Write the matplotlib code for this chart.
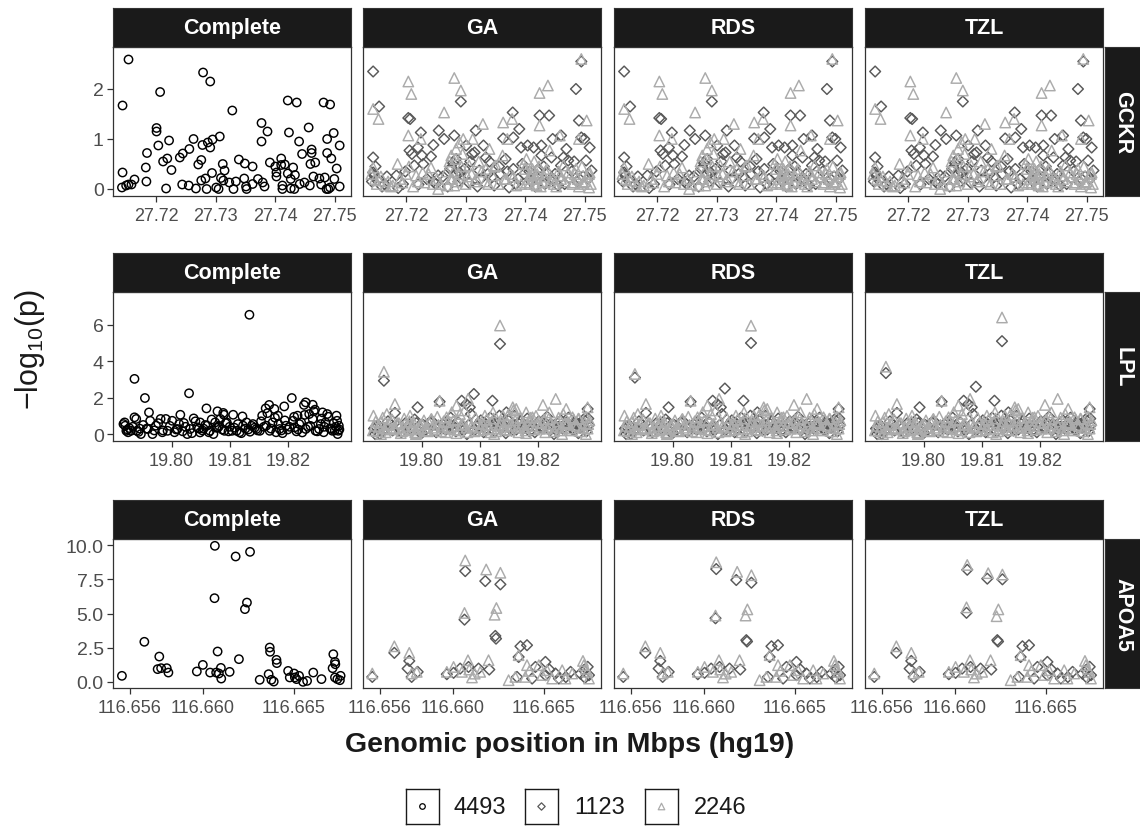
import matplotlib
matplotlib.use("Agg")
import matplotlib.pyplot as plt

plt.rcParams['font.family'] = ['Liberation Sans', 'DejaVu Sans']
plt.rcParams['mathtext.fontset'] = 'custom'
plt.rcParams['mathtext.rm'] = 'Liberation Sans'
plt.rcParams['mathtext.it'] = 'Liberation Sans:italic'

# ---------------- data ----------------
methods = ["Complete", "GA", "RDS", "TZL"]
genes = ["GCKR", "LPL", "APOA5"]
legend_labels = ["4493", "1123", "2246"]

gckr_xticks = [27.72, 27.73, 27.74, 27.75]
gckr_xtick_labels = ["27.72", "27.73", "27.74", "27.75"]
gckr_yticks = [0, 1, 2]
gckr_ytick_labels = ["0", "1", "2"]

lpl_xticks = [19.80, 19.81, 19.82]
lpl_xtick_labels = ["19.80", "19.81", "19.82"]
lpl_yticks = [0, 2, 4, 6]
lpl_ytick_labels = ["0", "2", "4", "6"]

apoa5_xticks = [116.656, 116.660, 116.665]
apoa5_xtick_labels = ["116.656", "116.660", "116.665"]
apoa5_yticks = [0, 2.5, 5, 7.5, 10]
apoa5_ytick_labels = ["0.0", "2.5", "5.0", "7.5", "10.0"]

# GCKR, complete data (n = 4493)
gckr_complete_pos = [27.7154, 27.7144, 27.7144, 27.7143, 27.7150, 27.7154, 27.7159, 27.7164, 27.7183, 27.7184,
                     27.7185, 27.7201, 27.7201, 27.7204, 27.7207, 27.7212, 27.7219, 27.7222, 27.7226, 27.7217,
                     27.7240, 27.7245, 27.7256, 27.7263, 27.7244, 27.7255, 27.7267, 27.7271, 27.7276, 27.7276,
                     27.7278, 27.7279, 27.7283, 27.7285, 27.7291, 27.7287, 27.7291, 27.7295, 27.7294, 27.7301,
                     27.7305, 27.7307, 27.7309, 27.7312, 27.7315, 27.7313, 27.7323, 27.7328, 27.7330, 27.7334,
                     27.7339, 27.7348, 27.7349, 27.7351, 27.7352, 27.7362, 27.7362, 27.7371, 27.7377, 27.7377,
                     27.7379, 27.7382, 27.7387, 27.7391, 27.7400, 27.7402, 27.7402, 27.7410, 27.7410, 27.7412,
                     27.7412, 27.7416, 27.7421, 27.7423, 27.7421, 27.7426, 27.7430, 27.7433, 27.7426, 27.7432,
                     27.7436, 27.7440, 27.7441, 27.7445, 27.7449, 27.7456, 27.7459, 27.7461, 27.7461, 27.7464,
                     27.7467, 27.7458, 27.7474, 27.7481, 27.7492, 27.7487, 27.7487, 27.7494, 27.7498, 27.7503,
                     27.7508, 27.7499, 27.7492, 27.7486, 27.7489, 27.7508, 27.7483, 27.7477]
gckr_complete_logp = [2.59, 1.67, 0.33, 0.03, 0.07, 0.09, 0.09, 0.19, 0.43, 0.15,
                      0.72, 1.22, 1.15, 0.87, 1.94, 0.55, 0.61, 0.97, 0.38, 0.01,
                      0.63, 0.71, 0.80, 1.00, 0.09, 0.07, 0.01, 0.49, 0.58, 0.17,
                      0.88, 2.33, 0.21, 0.00, 2.15, 0.93, 0.83, 0.99, 0.32, 0.03,
                      0.00, 1.05, 0.22, 0.50, 0.37, 0.17, 0.13, 1.57, 0.00, 0.15,
                      0.59, 0.21, 0.51, 0.05, 0.00, 0.45, 0.10, 0.20, 1.32, 0.95,
                      0.13, 0.05, 1.15, 0.53, 0.45, 0.33, 0.25, 0.61, 0.48, 0.07,
                      0.00, 0.49, 1.77, 1.13, 0.31, 0.20, 0.43, 0.28, 0.01, 0.00,
                      1.73, 0.95, 0.10, 0.70, 0.13, 1.23, 0.50, 0.79, 0.72, 0.25,
                      0.53, 0.07, 0.21, 1.73, 1.69, 0.72, 1.00, 0.61, 1.12, 0.41,
                      0.87, 0.20, 0.03, 0.00, 0.00, 0.05, 0.23, 0.09]

# GCKR, imputed data (n = 1123, diamonds)
gckr_1123_pos = [27.7145, 27.7155, 27.7145, 27.7145, 27.7147, 27.7152, 27.7164, 27.7184, 27.7187, 27.7204,
                 27.7207, 27.7206, 27.7210, 27.7214, 27.7220, 27.7225, 27.7227, 27.7221, 27.7242, 27.7246,
                 27.7246, 27.7254, 27.7255, 27.7264, 27.7281, 27.7292, 27.7279, 27.7284, 27.7276, 27.7290,
                 27.7301, 27.7311, 27.7315, 27.7317, 27.7306, 27.7323, 27.7330, 27.7334, 27.7340, 27.7348,
                 27.7363, 27.7367, 27.7373, 27.7379, 27.7380, 27.7390, 27.7393, 27.7380, 27.7404, 27.7414,
                 27.7424, 27.7427, 27.7440, 27.7427, 27.7444, 27.7436, 27.7455, 27.7460, 27.7464, 27.7469,
                 27.7472, 27.7460, 27.7485, 27.7494, 27.7490, 27.7494, 27.7499, 27.7508, 27.7502, 27.7511,
                 27.7491, 27.7446,
                 27.7143, 27.7160, 27.7195, 27.7235, 27.7262, 27.7270, 27.7283, 27.7288, 27.7298, 27.7325,
                 27.7345, 27.7358, 27.7370, 27.7388, 27.7398, 27.7410, 27.7418, 27.7422, 27.7433, 27.7450,
                 27.7478, 27.7487, 27.7505,
                 27.7149, 27.7168, 27.7199, 27.7229, 27.7250, 27.7274, 27.7293, 27.7308, 27.7320, 27.7337,
                 27.7356, 27.7384, 27.7395, 27.7407, 27.7417, 27.7431, 27.7447, 27.7466, 27.7482, 27.7497]
gckr_1123_logp = [2.35, 1.65, 0.63, 0.33, 0.27, 0.17, 0.10, 0.27, 0.02, 1.42,
                  1.40, 0.77, 0.70, 0.47, 0.83, 1.13, 0.67, 0.09, 0.65, 0.88,
                  0.15, 0.27, 1.17, 1.00, 1.07, 1.75, 0.52, 0.60, 0.43, 0.33,
                  0.87, 0.70, 0.73, 1.17, 0.12, 0.37, 0.87, 0.63, 0.55, 0.07,
                  1.01, 0.60, 0.03, 1.53, 1.03, 1.20, 0.83, 0.40, 0.87, 0.83,
                  1.47, 0.87, 1.47, 0.67, 0.63, 0.33, 0.07, 1.07, 0.63, 0.80,
                  0.57, 0.47, 2.00, 2.55, 1.37, 1.03, 1.00, 0.83, 0.57, 0.37,
                  0.20, 1.00,
                  0.15, 0.05, 0.10, 0.20, 0.25, 0.05, 0.30, 0.15, 0.40, 0.20,
                  0.25, 0.30, 0.35, 0.20, 0.30, 0.15, 0.25, 0.40, 0.10, 0.30,
                  0.35, 0.15, 0.20,
                  0.45, 0.25, 0.35, 0.50, 0.10, 0.40, 0.20, 0.55, 0.05, 0.30,
                  0.45, 0.10, 0.50, 0.35, 0.05, 0.45, 0.20, 0.10, 0.55, 0.25]

# GCKR, imputed data (n = 2246, triangles)
gckr_2246_pos = [27.7145, 27.7154, 27.7145, 27.7166, 27.7186, 27.7204, 27.7209, 27.7204, 27.7225, 27.7228,
                 27.7242, 27.7254, 27.7264, 27.7281, 27.7292, 27.7276, 27.7284, 27.7290, 27.7296, 27.7270,
                 27.7281, 27.7312, 27.7329, 27.7340, 27.7334, 27.7345, 27.7351, 27.7363, 27.7378, 27.7370,
                 27.7362, 27.7385, 27.7397, 27.7402, 27.7414, 27.7424, 27.7438, 27.7424, 27.7414, 27.7419,
                 27.7430, 27.7441, 27.7458, 27.7464, 27.7472, 27.7481, 27.7490, 27.7494, 27.7503, 27.7508,
                 27.7507, 27.7497, 27.7458, 27.7447, 27.7408, 27.7402, 27.7318, 27.7306, 27.7252, 27.7231,
                 27.7217, 27.7194, 27.7178, 27.7155,
                 27.7148, 27.7170, 27.7200, 27.7212, 27.7245, 27.7275, 27.7280, 27.7286, 27.7293, 27.7300,
                 27.7310, 27.7322, 27.7333, 27.7355, 27.7365, 27.7375, 27.7393, 27.7405, 27.7412, 27.7416,
                 27.7420, 27.7426, 27.7432, 27.7436, 27.7442, 27.7452, 27.7460, 27.7475, 27.7485, 27.7490,
                 27.7500, 27.7507,
                 27.7142, 27.7151, 27.7158, 27.7175, 27.7190, 27.7205, 27.7220, 27.7238, 27.7258, 27.7268,
                 27.7273, 27.7278, 27.7283, 27.7289, 27.7295, 27.7303, 27.7315, 27.7327, 27.7338, 27.7348,
                 27.7368, 27.7380, 27.7399, 27.7407, 27.7411, 27.7415, 27.7419, 27.7423, 27.7429, 27.7434,
                 27.7448, 27.7456, 27.7466, 27.7479, 27.7483, 27.7488, 27.7495, 27.7498, 27.7503, 27.7510]
gckr_2246_logp = [1.60, 1.40, 0.43, 0.07, 0.50, 2.15, 1.90, 1.07, 1.00, 0.33,
                  0.43, 0.00, 1.53, 2.22, 1.97, 0.67, 0.80, 0.93, 1.00, 0.07,
                  0.07, 1.00, 1.30, 0.80, 0.40, 0.27, 0.47, 1.33, 1.40, 1.00,
                  0.67, 0.07, 0.50, 0.60, 0.33, 1.92, 2.07, 1.27, 0.20, 0.07,
                  0.13, 0.77, 1.07, 0.47, 0.33, 0.13, 1.00, 2.60, 1.37, 0.33,
                  0.03, 0.13, 0.27, 0.20, 0.27, 0.13, 0.20, 0.47, 0.20, 0.13,
                  0.27, 0.13, 0.07, 0.17,
                  0.20, 0.15, 0.30, 0.05, 0.10, 0.20, 0.35, 0.15, 0.45, 0.10,
                  0.30, 0.55, 0.15, 0.10, 0.20, 0.30, 0.10, 0.20, 0.40, 0.10,
                  0.30, 0.05, 0.25, 0.40, 0.15, 0.05, 0.20, 0.25, 0.40, 0.05,
                  0.15, 0.30,
                  0.30, 0.10, 0.25, 0.05, 0.20, 0.45, 0.15, 0.30, 0.10, 0.35,
                  0.55, 0.20, 0.60, 0.30, 0.70, 0.25, 0.15, 0.35, 0.10, 0.45,
                  0.20, 0.25, 0.40, 0.10, 0.30, 0.55, 0.20, 0.45, 0.15, 0.35,
                  0.10, 0.35, 0.15, 0.10, 0.30, 0.20, 0.45, 0.10, 0.25, 0.10]

# LPL, complete data
lpl_complete_pos = [19.8134, 19.7936, 19.7954, 19.7961, 19.7963, 19.8030, 19.7919, 19.7920, 19.7936, 19.7939,
                    19.8015, 19.8021, 19.8038, 19.8060, 19.8079, 19.8089, 19.8090, 19.8106, 19.8122, 19.8156,
                    19.8168, 19.8162, 19.8177, 19.8183, 19.8194, 19.8207, 19.8228, 19.8231, 19.8243, 19.8247,
                    19.8260, 19.8268, 19.8284, 19.8285, 19.8288, 19.8287, 19.7981, 19.7990, 19.8001, 19.7973,
                    19.7993, 19.7947, 19.7967, 19.7930, 19.7927, 19.7922, 19.8027, 19.8049, 19.8044, 19.8066,
                    19.8075, 19.8084, 19.8095, 19.8072, 19.8112, 19.8123, 19.8129, 19.8140, 19.8146, 19.8152,
                    19.8163, 19.8174, 19.8186, 19.8197, 19.8209, 19.8220, 19.8231, 19.8243, 19.8254, 19.8265,
                    19.8277, 19.8286, 19.8104, 19.8135, 19.8191, 19.8225, 19.8248, 19.8257, 19.8237, 19.8217,
                    19.8212, 19.8169, 19.8032, 19.8010, 19.7959, 19.7940, 19.8049, 19.8061, 19.8080, 19.8091,
                    19.7925, 19.7945, 19.7985, 19.8005, 19.8055, 19.8100, 19.8117, 19.8143, 19.8180, 19.8200,
                    19.8215, 19.8235, 19.8262, 19.8273, 19.8281,
                    19.7917, 19.7924, 19.7933, 19.7943, 19.7951, 19.7957, 19.7970, 19.7977, 19.7984, 19.7997,
                    19.8008, 19.8013, 19.8019, 19.8024, 19.8035, 19.8041, 19.8047, 19.8053, 19.8058, 19.8064,
                    19.8069, 19.8077, 19.8082, 19.8087, 19.8093, 19.8098, 19.8108, 19.8114, 19.8120, 19.8127,
                    19.8132, 19.8138, 19.8148, 19.8154, 19.8159, 19.8165, 19.8171, 19.8178, 19.8184, 19.8189,
                    19.8195, 19.8203, 19.8211, 19.8218, 19.8223, 19.8229, 19.8239, 19.8245, 19.8251, 19.8258,
                    19.8263, 19.8270, 19.8275, 19.8279, 19.8283, 19.8289]
lpl_complete_logp = [6.55, 3.03, 1.98, 1.19, 0.73, 2.24, 0.64, 0.46, 0.92, 0.83,
                     1.06, 0.61, 0.86, 1.41, 1.25, 1.16, 1.06, 1.06, 0.97, 1.01,
                     1.60, 1.41, 1.38, 1.01, 1.52, 1.98, 1.60, 1.74, 1.61, 1.34,
                     1.19, 1.10, 1.01, 0.73, 0.46, 0.18, 0.83, 0.83, 0.73, 0.46,
                     0.18, 0.00, 0.00, 0.18, 0.33, 0.18, 0.00, 0.09, 0.37, 0.18,
                     0.64, 0.83, 0.64, 0.00, 0.18, 0.46, 0.64, 0.55, 0.28, 0.18,
                     0.46, 0.64, 0.28, 0.46, 0.73, 0.55, 0.28, 0.83, 0.28, 0.64,
                     0.18, 0.00, 0.18, 0.13, 0.05, 0.09, 0.18, 0.55, 1.10, 1.01,
                     0.37, 0.18, 0.28, 0.28, 0.28, 0.18, 0.64, 0.46, 0.37, 0.18,
                     0.10, 0.30, 0.20, 0.10, 0.30, 0.40, 0.10, 0.35, 0.10, 0.25,
                     0.15, 0.40, 0.10, 0.30, 0.20,
                     0.55, 0.25, 0.40, 0.12, 0.50, 0.30, 0.20, 0.60, 0.10, 0.45,
                     0.25, 0.55, 0.15, 0.40, 0.05, 0.70, 0.30, 0.20, 0.50, 0.10,
                     0.80, 0.35, 0.45, 0.25, 0.60, 0.15, 0.35, 0.55, 0.05, 0.30,
                     0.25, 0.45, 0.20, 0.70, 0.40, 1.15, 0.30, 0.90, 0.55, 0.20,
                     0.75, 0.40, 0.95, 0.25, 0.65, 1.05, 0.45, 1.25, 0.15, 0.85,
                     0.40, 0.95, 0.30, 0.60, 0.40, 0.25]

# LPL, imputed (n = 1123) background points, shared by GA / RDS / TZL
lpl_1123_pos = [19.8031, 19.8069, 19.8077, 19.8083, 19.8122, 19.7993, 19.7954, 19.8286, 19.8146, 19.8134,
                19.7920,
                19.7918, 19.7925, 19.7932, 19.7942, 19.7950, 19.7958, 19.7965, 19.7972, 19.7980, 19.7988,
                19.7995, 19.8003, 19.8010, 19.8018, 19.8025, 19.8036, 19.8042, 19.8050, 19.8056, 19.8063,
                19.8072, 19.8085, 19.8095, 19.8102, 19.8110, 19.8118, 19.8126, 19.8131, 19.8140, 19.8150,
                19.8155, 19.8160, 19.8168, 19.8175, 19.8182, 19.8188, 19.8195, 19.8202, 19.8210, 19.8216,
                19.8224, 19.8232, 19.8240, 19.8246, 19.8253, 19.8260, 19.8266, 19.8273, 19.8279, 19.8284,
                19.8288, 19.7928, 19.8000, 19.8078, 19.8145, 19.8228, 19.8270,
                19.7921, 19.7937, 19.7946, 19.7962, 19.7977, 19.7991, 19.8006, 19.8014, 19.8028, 19.8039,
                19.8047, 19.8059, 19.8066, 19.8081, 19.8092, 19.8099, 19.8107, 19.8115, 19.8123, 19.8137,
                19.8143, 19.8152, 19.8163, 19.8171, 19.8179, 19.8186, 19.8199, 19.8207, 19.8213, 19.8221,
                19.8229, 19.8236, 19.8243, 19.8250, 19.8257, 19.8263, 19.8270, 19.8276, 19.8282, 19.8287]
lpl_1123_logp = [1.78, 1.83, 1.65, 1.47, 1.83, 1.47, 1.16, 1.38, 1.19, 1.01,
                 0.00,
                 0.30, 0.50, 0.15, 0.70, 0.20, 0.45, 0.10, 0.60, 0.30, 0.80,
                 0.15, 0.50, 0.35, 0.70, 0.10, 0.55, 0.25, 0.90, 0.40, 0.65,
                 0.20, 1.10, 0.45, 0.75, 0.30, 0.90, 0.15, 0.60, 0.40, 0.80,
                 0.20, 1.00, 0.55, 0.30, 0.85, 0.45, 0.10, 0.70, 0.35, 0.95,
                 0.50, 0.20, 0.75, 0.40, 0.90, 0.25, 0.60, 0.35, 0.80, 0.15,
                 0.50, 0.00, 0.05, 0.00, 0.05, 0.00, 0.05,
                 0.40, 0.25, 0.55, 0.30, 0.45, 0.60, 0.20, 0.65, 0.40, 0.30,
                 0.55, 0.15, 0.35, 0.50, 0.25, 0.60, 0.10, 0.45, 0.55, 0.30,
                 0.65, 0.40, 0.25, 0.70, 0.45, 0.15, 0.55, 0.35, 0.60, 0.20,
                 0.50, 0.40, 0.30, 0.65, 0.45, 0.20, 0.55, 0.60, 0.30, 0.85]

# LPL, imputed (n = 2246) background points
lpl_2246_pos = [19.7954, 19.8031, 19.8060, 19.8080, 19.8231, 19.8209, 19.8286, 19.8157, 19.8163, 19.8180,
                19.8249, 19.7917, 19.7940, 19.7980, 19.8017, 19.8043, 19.8066, 19.8109, 19.8123, 19.8140,
                19.8191, 19.8220, 19.8260, 19.8271,
                19.7916, 19.7921, 19.7927, 19.7933, 19.7938, 19.7944, 19.7949, 19.7955, 19.7961, 19.7966,
                19.7970, 19.7976, 19.7983, 19.7986, 19.7992, 19.7997, 19.8004, 19.8008, 19.8013, 19.8020,
                19.8027, 19.8033, 19.8038, 19.8046, 19.8052, 19.8057, 19.8062, 19.8068, 19.8074, 19.8079,
                19.8083, 19.8088, 19.8093, 19.8098, 19.8105, 19.8112, 19.8116, 19.8121, 19.8128, 19.8133,
                19.8138, 19.8144, 19.8149, 19.8153, 19.8158, 19.8164, 19.8170, 19.8174, 19.8179, 19.8185,
                19.8190, 19.8197, 19.8203, 19.8207, 19.8213, 19.8219, 19.8225, 19.8234, 19.8238, 19.8244,
                19.8250, 19.8256, 19.8262, 19.8268, 19.8275, 19.8281, 19.8286, 19.8289, 19.7930, 19.7990,
                19.8060, 19.8125, 19.8180, 19.8242, 19.8283,
                19.7919, 19.7924, 19.7930, 19.7936, 19.7941, 19.7947, 19.7952, 19.7958, 19.7964, 19.7968,
                19.7973, 19.7979, 19.7985, 19.7989, 19.7995, 19.8001, 19.8006, 19.8011, 19.8016, 19.8023,
                19.8029, 19.8035, 19.8041, 19.8044, 19.8049, 19.8055, 19.8065, 19.8071, 19.8077, 19.8086,
                19.8091, 19.8096, 19.8101, 19.8108, 19.8114, 19.8119, 19.8124, 19.8131, 19.8136, 19.8141,
                19.8147, 19.8151, 19.8156, 19.8161, 19.8167, 19.8172, 19.8177, 19.8183, 19.8188, 19.8194,
                19.8200, 19.8205, 19.8211, 19.8216, 19.8222, 19.8228, 19.8232, 19.8236, 19.8241, 19.8247,
                19.8252, 19.8258, 19.8264, 19.8270, 19.8277, 19.8283, 19.8287]
lpl_2246_logp = [1.65, 1.83, 1.56, 1.93, 1.93, 1.60, 1.47, 1.47, 1.38, 1.19,
                 1.38, 1.01, 1.10, 1.01, 0.83, 0.92, 1.10, 1.01, 1.19, 1.01,
                 0.92, 1.19, 0.92, 0.83,
                 0.20, 0.70, 0.40, 0.90, 0.10, 0.55, 0.80, 0.30, 0.60, 0.15,
                 0.85, 0.45, 0.25, 0.65, 0.05, 0.50, 0.75, 0.20, 0.60, 0.35,
                 0.95, 0.15, 0.70, 0.40, 1.20, 0.25, 0.80, 0.50, 1.30, 0.10,
                 0.65, 0.35, 0.90, 0.20, 0.55, 0.80, 0.30, 0.65, 0.15, 0.45,
                 0.70, 0.25, 1.05, 0.50, 1.30, 0.35, 0.90, 0.60, 0.20, 0.75,
                 0.45, 1.00, 0.30, 0.65, 0.10, 0.85, 0.40, 0.70, 0.20, 1.10,
                 0.55, 0.30, 0.80, 0.45, 0.15, 0.60, 0.30, 0.75, 0.00, 0.00,
                 0.05, 0.00, 0.05, 0.00, 0.00,
                 0.45, 0.15, 0.65, 0.30, 0.50, 0.25, 0.35, 0.60, 0.05, 0.40,
                 0.20, 0.70, 0.45, 0.10, 0.30, 0.55, 0.35, 0.15, 0.80, 0.25,
                 0.50, 0.40, 0.10, 0.65, 0.30, 0.75, 0.20, 0.55, 0.35, 0.45,
                 0.15, 0.60, 0.40, 0.25, 0.50, 0.10, 0.85, 0.30, 0.55, 0.40,
                 0.65, 0.20, 0.45, 0.75, 0.10, 0.50, 0.35, 0.55, 0.90, 0.25,
                 0.60, 0.40, 0.80, 0.30, 0.55, 0.15, 0.45, 0.90, 0.35, 0.60,
                 0.65, 0.20, 0.50, 0.85, 0.35, 0.95, 0.55]

# LPL peak SNPs, per imputation method
lpl_peak_1123_pos = [19.7935, 19.8135, 19.8090]
lpl_peak_1123_ga = [2.93, 4.95, 2.20]
lpl_peak_1123_rds = [3.10, 5.00, 2.50]
lpl_peak_1123_tzl = [3.35, 5.10, 2.60]
lpl_peak_2246_pos = [19.7935, 19.8135]
lpl_peak_2246_ga = [3.42, 5.96]
lpl_peak_2246_rds = [3.30, 5.95]
lpl_peak_2246_tzl = [3.70, 6.40]

# APOA5, complete data
apoa5_complete_pos = [116.65556, 116.65679, 116.65761, 116.65752, 116.65771, 116.65802, 116.65811, 116.65967,
                      116.66000, 116.66040, 116.66066, 116.66064, 116.66081, 116.66073, 116.66088, 116.66099,
                      116.66101, 116.66147, 116.66180, 116.66198, 116.66231, 116.66242, 116.66259, 116.66312,
                      116.66367, 116.66369, 116.66361, 116.66376, 116.66389, 116.66404, 116.66406, 116.66468,
                      116.66477, 116.66501, 116.66505, 116.66514, 116.66528, 116.66550, 116.66572, 116.66606,
                      116.66651, 116.66712, 116.66716, 116.66725, 116.66727, 116.66725, 116.66738, 116.66752,
                      116.66756]
apoa5_complete_logp = [0.44, 2.93, 1.85, 0.93, 1.00, 1.00, 0.68, 0.76,
                       1.24, 0.68, 9.95, 6.12, 2.22, 0.68, 0.61, 1.02,
                       0.24, 0.73, 9.17, 1.66, 5.32, 5.80, 9.51, 0.15,
                       2.51, 2.20, 0.56, 0.15, 0.02, 1.61, 1.37, 0.80,
                       0.32, 0.61, 0.32, 0.20, 0.44, 0.00, 0.07, 0.68,
                       0.20, 1.00, 2.02, 1.46, 1.29, 0.32, 0.20, 0.12,
                       0.44]

# APOA5, imputed (n = 1123) background points
apoa5_1123_pos = [116.65558, 116.65679, 116.65761, 116.65752, 116.65774, 116.65807, 116.66200, 116.66141,
                  116.66086, 116.66040, 116.66004, 116.65967, 116.66371, 116.66407, 116.66361, 116.66508,
                  116.66453, 116.66563, 116.66646, 116.66719, 116.66747, 116.66352, 116.66435, 116.66508,
                  116.66582, 116.66740, 116.66725, 116.66700, 116.66620, 116.66530]
apoa5_1123_logp = [0.36, 2.12, 1.53, 0.97, 0.36, 0.73, 0.90, 0.97,
                   1.09, 0.97, 0.66, 0.56, 2.60, 2.68, 1.82, 1.46,
                   1.09, 0.61, 0.73, 0.85, 0.49, 0.36, 0.24, 0.49,
                   0.24, 1.10, 0.30, 0.60, 0.35, 0.90]

# APOA5, imputed (n = 2246) background points
apoa5_2246_pos = [116.65558, 116.65679, 116.65761, 116.66083, 116.66196, 116.66004, 116.65967, 116.66105,
                  116.66361, 116.66407, 116.66472, 116.66517, 116.66600, 116.66655, 116.66714, 116.66719,
                  116.66738, 116.66306, 116.66343, 116.65774, 116.65802, 116.66050, 116.66150, 116.66398,
                  116.66545, 116.66618, 116.66747, 116.66090, 116.66120, 116.66420, 116.66490, 116.66730]
apoa5_2246_logp = [0.61, 2.60, 2.12, 1.58, 1.58, 1.09, 0.73, 0.32,
                   1.95, 1.22, 1.22, 0.85, 0.85, 0.61, 1.53, 1.22,
                   0.73, 0.12, 0.36, 0.61, 0.73, 0.73, 0.73, 0.36,
                   0.24, 0.24, 0.24, 0.90, 0.60, 0.80, 0.50, 0.95]

# APOA5 peak SNPs, per imputation method
apoa5_peak_1123_pos = [116.66068, 116.66064, 116.66178, 116.66261, 116.66233, 116.66237]
apoa5_peak_1123_ga = [8.10, 4.55, 7.37, 7.13, 3.36, 3.16]
apoa5_peak_1123_rds = [8.25, 4.65, 7.45, 7.25, 3.05, 2.95]
apoa5_peak_1123_tzl = [8.20, 5.05, 7.55, 7.50, 3.05, 2.95]
apoa5_peak_2246_pos = [116.66068, 116.66064, 116.66183, 116.66261, 116.66239, 116.66229]
apoa5_peak_2246_ga = [8.88, 5.04, 8.22, 7.98, 5.40, 4.91]
apoa5_peak_2246_rds = [8.75, 4.85, 8.05, 7.80, 5.30, 4.85]
apoa5_peak_2246_tzl = [8.55, 5.45, 7.95, 7.85, 5.30, 4.80]

# ---------------- assemble per panel ----------------
def imputed(base_pos, base_val, peak_pos, peak_val):
    return list(base_pos) + list(peak_pos), list(base_val) + list(peak_val)

gene_data = {
    "GCKR": {
        "Complete": (gckr_complete_pos, gckr_complete_logp),
        "1123": {m: (gckr_1123_pos, gckr_1123_logp) for m in ["GA", "RDS", "TZL"]},
        "2246": {m: (gckr_2246_pos, gckr_2246_logp) for m in ["GA", "RDS", "TZL"]},
    },
    "LPL": {
        "Complete": (lpl_complete_pos, lpl_complete_logp),
        "1123": {"GA": imputed(lpl_1123_pos, lpl_1123_logp, lpl_peak_1123_pos, lpl_peak_1123_ga),
                 "RDS": imputed(lpl_1123_pos, lpl_1123_logp, lpl_peak_1123_pos, lpl_peak_1123_rds),
                 "TZL": imputed(lpl_1123_pos, lpl_1123_logp, lpl_peak_1123_pos, lpl_peak_1123_tzl)},
        "2246": {"GA": imputed(lpl_2246_pos, lpl_2246_logp, lpl_peak_2246_pos, lpl_peak_2246_ga),
                 "RDS": imputed(lpl_2246_pos, lpl_2246_logp, lpl_peak_2246_pos, lpl_peak_2246_rds),
                 "TZL": imputed(lpl_2246_pos, lpl_2246_logp, lpl_peak_2246_pos, lpl_peak_2246_tzl)},
    },
    "APOA5": {
        "Complete": (apoa5_complete_pos, apoa5_complete_logp),
        "1123": {"GA": imputed(apoa5_1123_pos, apoa5_1123_logp, apoa5_peak_1123_pos, apoa5_peak_1123_ga),
                 "RDS": imputed(apoa5_1123_pos, apoa5_1123_logp, apoa5_peak_1123_pos, apoa5_peak_1123_rds),
                 "TZL": imputed(apoa5_1123_pos, apoa5_1123_logp, apoa5_peak_1123_pos, apoa5_peak_1123_tzl)},
        "2246": {"GA": imputed(apoa5_2246_pos, apoa5_2246_logp, apoa5_peak_2246_pos, apoa5_peak_2246_ga),
                 "RDS": imputed(apoa5_2246_pos, apoa5_2246_logp, apoa5_peak_2246_pos, apoa5_peak_2246_rds),
                 "TZL": imputed(apoa5_2246_pos, apoa5_2246_logp, apoa5_peak_2246_pos, apoa5_peak_2246_tzl)},
    },
}

axis_cfg = {
    "GCKR": dict(xlim=(27.7128, 27.7527), ylim=(-0.14, 2.84), xt=gckr_xticks, xtl=gckr_xtick_labels,
                 yt=gckr_yticks, ytl=gckr_ytick_labels),
    "LPL": dict(xlim=(19.7899, 19.8309), ylim=(-0.38, 7.8), xt=lpl_xticks, xtl=lpl_xtick_labels,
                yt=lpl_yticks, ytl=lpl_ytick_labels),
    "APOA5": dict(xlim=(116.65507, 116.66813), ylim=(-0.45, 10.45), xt=apoa5_xticks, xtl=apoa5_xtick_labels,
                  yt=apoa5_yticks, ytl=apoa5_ytick_labels),
}

# ---------------- layout ----------------
W, H = 1140, 828
fig = plt.figure(figsize=(W / 100, H / 100), dpi=100)

def fa(x0, y0, w, h):
    return [x0 / W, 1 - (y0 + h) / H, w / W, h / H]

col_left = [113, 363, 614, 865]
panel_w = 238
row_top = [48, 293, 540]
panel_h = 149
strip_h = 39

STRIP = '#1a1a1a'
BORDER = '#333333'
TICKLAB = '#4d4d4d'
COL_C = 'black'
COL_D = '#595959'
COL_T = '#ababab'

for r, gene in enumerate(genes):
    cfg = axis_cfg[gene]
    for c, meth in enumerate(methods):
        ax = fig.add_axes(fa(col_left[c], row_top[r], panel_w, panel_h))
        if meth == "Complete":
            px, py = gene_data[gene]["Complete"]
            n = min(len(px), len(py))
            ax.scatter(px[:n], py[:n], s=36, marker='o', facecolors='none', edgecolors=COL_C, linewidths=1.05)
        else:
            dx, dy = gene_data[gene]["1123"][meth]
            tx, ty = gene_data[gene]["2246"][meth]
            n1 = min(len(dx), len(dy))
            n2 = min(len(tx), len(ty))
            ax.scatter(dx[:n1], dy[:n1], s=30, marker='D', facecolors='none', edgecolors=COL_D, linewidths=1.05)
            ax.scatter(tx[:n2], ty[:n2], s=56, marker='^', facecolors='none', edgecolors=COL_T, linewidths=1.05)
        ax.set_xlim(cfg["xlim"])
        ax.set_ylim(cfg["ylim"])
        ax.set_xticks(cfg["xt"])
        ax.set_xticklabels(cfg["xtl"], fontsize=13, color=TICKLAB)
        ax.set_yticks(cfg["yt"])
        if c == 0:
            ax.set_yticklabels(cfg["ytl"], fontsize=14, color=TICKLAB)
        else:
            ax.tick_params(axis='y', left=False, labelleft=False)
        ax.tick_params(axis='both', color=BORDER, length=4.2, width=0.9)
        ax.tick_params(axis='x', pad=3.5)
        ax.tick_params(axis='y', pad=2.5)
        for sp in ax.spines.values():
            sp.set_color(BORDER)
            sp.set_linewidth(0.9)
        # top strip
        sax = fig.add_axes(fa(col_left[c], row_top[r] - strip_h, panel_w, strip_h))
        sax.set_facecolor(STRIP)
        sax.set_xticks([]); sax.set_yticks([])
        for sp in sax.spines.values():
            sp.set_color(BORDER)
        sax.text(0.5, 0.5, meth, color='white', fontsize=15.5, fontweight='bold',
                 ha='center', va='center', transform=sax.transAxes)
    # right strip
    rax = fig.add_axes(fa(1105, row_top[r], 36, panel_h))
    rax.set_facecolor(STRIP)
    rax.set_xticks([]); rax.set_yticks([])
    for sp in rax.spines.values():
        sp.set_color(BORDER)
    rax.text(0.5, 0.5, gene, color='white', fontsize=15.5, fontweight='bold', rotation=270,
             ha='center', va='center', transform=rax.transAxes)

# axis titles
fig.text(30 / W, 1 - 350 / H, r'$\mathrm{-log_{10}(p)}$', rotation=90, fontsize=22,
         ha='center', va='center', color='#1a1a1a')
fig.text(570 / W, 1 - 745 / H, 'Genomic position in Mbps (hg19)', fontsize=20.5, fontweight='bold',
         ha='center', va='center', color='#1a1a1a')

# legend
key_x = [406, 525, 645]
text_x = [454, 574, 694]
key_markers = [('o', 'none', COL_C, 16), ('D', 'none', COL_D, 14), ('^', 'none', COL_T, 22)]
for kx, tx, lab, (mk, fc, ec, ss) in zip(key_x, text_x, legend_labels, key_markers):
    kax = fig.add_axes(fa(kx, 790, 33, 35))
    kax.set_xlim(0, 1); kax.set_ylim(0, 1)
    kax.set_xticks([]); kax.set_yticks([])
    for sp in kax.spines.values():
        sp.set_color('#1a1a1a'); sp.set_linewidth(1.0)
    kax.scatter([0.5], [0.5], s=ss, marker=mk, facecolors=fc, edgecolors=ec, linewidths=0.9)
    fig.text(tx / W, 1 - 808 / H, lab, fontsize=17, ha='left', va='center', color='#1a1a1a')

fig.savefig('out.png', dpi=100)
